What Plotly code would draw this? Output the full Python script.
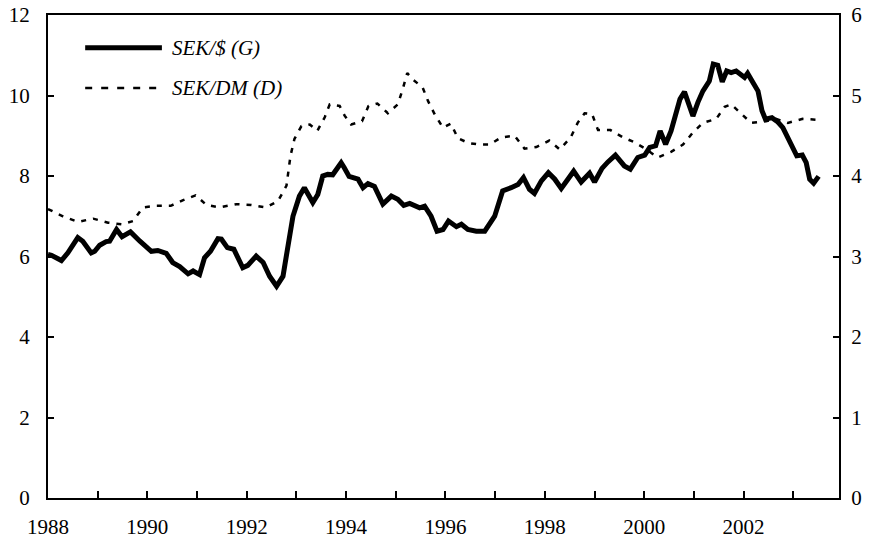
import plotly.graph_objects as go

# ---- data ----
usd_dates = [1988.00, 1988.07, 1988.27, 1988.40, 1988.60, 1988.70, 1988.87, 1988.94,
             1989.04, 1989.17, 1989.24, 1989.38, 1989.49, 1989.66, 1989.85,
             1990.08, 1990.21, 1990.38, 1990.51, 1990.65, 1990.82, 1990.92,
             1991.05, 1991.15, 1991.27, 1991.42, 1991.49, 1991.61, 1991.74, 1991.92,
             1992.02, 1992.19, 1992.33, 1992.46, 1992.60, 1992.73, 1992.83, 1992.93,
             1993.06, 1993.16, 1993.33, 1993.43, 1993.53, 1993.63, 1993.73, 1993.90, 1993.96,
             1994.06, 1994.24, 1994.34, 1994.44, 1994.57, 1994.74, 1994.91,
             1995.04, 1995.16, 1995.28, 1995.48, 1995.58, 1995.71, 1995.83, 1995.95,
             1996.06, 1996.22, 1996.32, 1996.45, 1996.62, 1996.79, 1996.99,
             1997.15, 1997.32, 1997.46, 1997.57, 1997.69, 1997.79, 1997.93,
             1998.07, 1998.20, 1998.33, 1998.43, 1998.58, 1998.73, 1998.90,
             1999.00, 1999.15, 1999.27, 1999.42, 1999.60, 1999.72, 1999.87,
             2000.01, 2000.11, 2000.23, 2000.32, 2000.43, 2000.54, 2000.64, 2000.72, 2000.81, 2000.90, 2000.98,
             2001.08, 2001.18, 2001.31, 2001.39, 2001.48, 2001.57, 2001.66, 2001.75, 2001.85, 2001.95,
             2002.02, 2002.08, 2002.17, 2002.29, 2002.37, 2002.44, 2002.57, 2002.69, 2002.79, 2002.89, 2002.99,
             2003.07, 2003.18, 2003.26, 2003.33, 2003.41, 2003.51]
usd_values = [6.05, 6.03, 5.90, 6.09, 6.47, 6.38, 6.09, 6.13,
              6.28, 6.37, 6.38, 6.67, 6.49, 6.61, 6.38,
              6.13, 6.15, 6.08, 5.85, 5.75, 5.57, 5.64,
              5.55, 5.97, 6.13, 6.44, 6.43, 6.22, 6.18, 5.72,
              5.78, 6.01, 5.85, 5.51, 5.26, 5.51, 6.26, 7.00,
              7.50, 7.71, 7.34, 7.54, 8.00, 8.04, 8.03, 8.33, 8.21,
              7.99, 7.92, 7.71, 7.81, 7.74, 7.30, 7.50,
              7.42, 7.27, 7.32, 7.21, 7.25, 7.00, 6.63, 6.67,
              6.88, 6.74, 6.80, 6.67, 6.63, 6.63, 7.00,
              7.63, 7.71, 7.79, 7.96, 7.67, 7.57, 7.88,
              8.08, 7.92, 7.69, 7.88, 8.12, 7.85, 8.07,
              7.85, 8.19, 8.35, 8.52, 8.25, 8.17, 8.46,
              8.52, 8.71, 8.75, 9.12, 8.79, 9.12, 9.58, 9.91, 10.09, 9.78, 9.49,
              9.83, 10.11, 10.36, 10.78, 10.75, 10.34, 10.61, 10.57, 10.61, 10.53,
              10.45, 10.55, 10.36, 10.11, 9.62, 9.41, 9.45, 9.34, 9.20, 8.96, 8.66,
              8.50, 8.52, 8.33, 7.92, 7.82, 7.99]

dm_dates = [1988.00, 1988.30, 1988.60, 1988.91, 1989.21, 1989.48, 1989.71, 1989.91,
            1990.18, 1990.47, 1990.72, 1990.97, 1991.19, 1991.45, 1991.79,
            1992.09, 1992.39, 1992.63, 1992.80, 1992.88, 1992.96,
            1993.10, 1993.27, 1993.42, 1993.57, 1993.67, 1993.87, 1993.97,
            1994.10, 1994.32, 1994.45, 1994.63, 1994.84,
            1995.04, 1995.14, 1995.23, 1995.34, 1995.54, 1995.65, 1995.78, 1995.95,
            1996.11, 1996.25, 1996.46, 1996.69, 1996.89,
            1997.12, 1997.39, 1997.59, 1997.83,
            1998.09, 1998.30, 1998.52, 1998.66, 1998.80, 1998.95,
            1999.07, 1999.32, 1999.57, 1999.80,
            2000.02, 2000.27, 2000.54, 2000.78, 2000.98,
            2001.18, 2001.45, 2001.62, 2001.75, 2001.95,
            2002.15, 2002.45, 2002.65, 2002.89, 2003.19, 2003.45]
dm_values = [3.59, 3.50, 3.43, 3.47, 3.42, 3.40, 3.44, 3.61,
             3.63, 3.63, 3.70, 3.76, 3.64, 3.61, 3.65,
             3.64, 3.61, 3.69, 3.88, 4.25, 4.46,
             4.62, 4.64, 4.56, 4.73, 4.89, 4.87, 4.75,
             4.64, 4.68, 4.87, 4.90, 4.78,
             4.89, 5.08, 5.28, 5.20, 5.10, 4.93, 4.77, 4.60,
             4.65, 4.47, 4.41, 4.39, 4.39,
             4.48, 4.50, 4.34, 4.36,
             4.44, 4.33, 4.48, 4.66, 4.78, 4.77,
             4.57, 4.57, 4.48, 4.42,
             4.34, 4.23, 4.30, 4.39, 4.54,
             4.66, 4.71, 4.86, 4.89, 4.77,
             4.66, 4.68, 4.71, 4.66, 4.71, 4.70]

x_tickvals = [1988, 1990, 1992, 1994, 1996, 1998, 2000, 2002]
x_ticktext = ["1988", "1990", "1992", "1994", "1996", "1998", "2000", "2002"]
left_ticks = [0, 2, 4, 6, 8, 10, 12]
right_ticks = [0, 1, 2, 3, 4, 5, 6]
legend_labels = ["SEK/$ (G)", "SEK/DM (D)"]

FONT = "Liberation Serif, Times New Roman, serif"

fig = go.Figure()
fig.add_trace(go.Scatter(x=dm_dates, y=dm_values, mode="lines", yaxis="y2",
                         name=legend_labels[1],
                         line=dict(color="black", width=2.5, dash="5px,7px")))
fig.add_trace(go.Scatter(x=usd_dates, y=usd_values, mode="lines", yaxis="y",
                         name=legend_labels[0],
                         line=dict(color="black", width=5)))

# manual legend (long line samples like the reference)
fig.add_shape(type="line", xref="paper", yref="paper", x0=0.047, x1=0.144, y0=0.932, y1=0.932,
              line=dict(color="black", width=5))
fig.add_shape(type="line", xref="paper", yref="paper", x0=0.047, x1=0.144, y0=0.849, y1=0.849,
              line=dict(color="black", width=2.5, dash="7px,9px"))
for yy, txt in zip([0.932, 0.849], legend_labels):
    fig.add_annotation(xref="paper", yref="paper", x=0.154, y=yy, text="<i>" + txt + "</i>",
                       showarrow=False, xanchor="left", yanchor="middle",
                       font=dict(family=FONT, size=21, color="black"))

fig.update_layout(
    width=873, height=548,
    margin=dict(l=48, r=34, t=15, b=50, autoexpand=False),
    paper_bgcolor="white", plot_bgcolor="white",
    showlegend=False,
    font=dict(family=FONT, size=21, color="black"),
    xaxis=dict(range=[1988, 2003.92], tickvals=x_tickvals, ticktext=x_ticktext,
               ticks="inside", ticklen=7, tickwidth=2, tickcolor="black",
               minor=dict(dtick=1, tick0=1988, ticks="inside", ticklen=7, tickwidth=2, tickcolor="black"),
               showline=True, linewidth=2, linecolor="black", mirror=True, automargin=False,
               showgrid=False, zeroline=False, ticklabelstandoff=9, ticklabeloverflow="allow"),
    yaxis=dict(range=[0, 12], tickvals=left_ticks, ticks="inside", ticklen=6, tickwidth=2,
               tickcolor="black", showline=True, linewidth=2, linecolor="black", automargin=False,
               showgrid=False, zeroline=False, ticklabelstandoff=12, ticklabeloverflow="allow"),
    yaxis2=dict(range=[0, 6], tickvals=right_ticks, overlaying="y", side="right",
                ticks="inside", ticklen=6, tickwidth=2, tickcolor="black", automargin=False,
                showline=True, linewidth=2, linecolor="black",
                showgrid=False, zeroline=False, ticklabelstandoff=6, ticklabeloverflow="allow"),
)

# remove the default page margin so the figure fills the window exactly
fig.write_html("out.html", config={"displayModeBar": False},
               post_script="document.body.style.margin='0';")
